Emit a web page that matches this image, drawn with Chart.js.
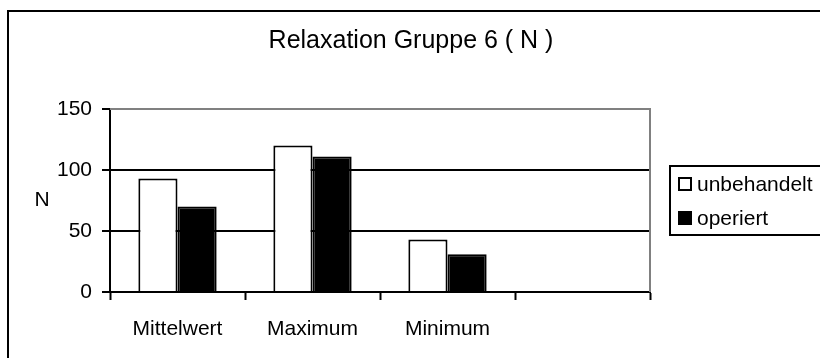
<!DOCTYPE html>
<html>
<head>
<meta charset="utf-8">
<script src="https://cdn.jsdelivr.net/npm/chart.js@4/dist/chart.umd.min.js"></script>
<style>
  html, body { margin: 0; padding: 0; background: #fff; }
  #wrap { width: 820px; height: 358px; }
</style>
</head>
<body>
<div id="wrap"><canvas id="c" width="820" height="358"></canvas></div>
<script>
// Chart data
const categories = ['Mittelwert', 'Maximum', 'Minimum', ''];
const seriesNames = ['unbehandelt', 'operiert'];
const unbehandelt = [93, 120, 43, null];
const operiert = [70, 111, 31, null];
const yTicks = [0, 50, 100, 150];
const chartTitle = 'Relaxation Gruppe 6 ( N )';
const yTitle = 'N';

const FONT = '"Liberation Sans", Arial, sans-serif';

// Frame, title, axis caption and boxed legend drawn around the plot
const decorations = {
  id: 'decorations',
  beforeDraw(chart) {
    const ctx = chart.ctx;
    ctx.save();
    ctx.fillStyle = '#fff';
    ctx.fillRect(0, 0, chart.width, chart.height);
    ctx.restore();
  },
  afterDraw(chart) {
    const ctx = chart.ctx;
    const area = chart.chartArea;
    ctx.save();

    // plot area border (top and right, grey)
    ctx.strokeStyle = '#808080';
    ctx.lineWidth = 2;
    ctx.beginPath();
    ctx.moveTo(area.left, area.top);
    ctx.lineTo(area.right, area.top);
    ctx.lineTo(area.right, area.bottom);
    ctx.stroke();

    // outer frame
    ctx.strokeStyle = '#000';
    ctx.lineWidth = 2;
    ctx.strokeRect(8, 11, 830, 360);

    // title
    ctx.fillStyle = '#000';
    ctx.font = '25px ' + FONT;
    ctx.textAlign = 'center';
    ctx.textBaseline = 'middle';
    ctx.fillText(chartTitle, 411, 41);

    // y axis caption
    ctx.font = '21px ' + FONT;
    ctx.fillText(yTitle, 42, 200);

    // legend
    ctx.lineWidth = 2;
    ctx.strokeRect(670, 166, 170, 69);
    const rows = [184, 218];
    chart.data.datasets.forEach((ds, i) => {
      const y = rows[i];
      ctx.fillStyle = ds.backgroundColor;
      ctx.fillRect(679, y - 6, 12, 12);
      ctx.strokeStyle = '#000';
      ctx.lineWidth = 2;
      ctx.strokeRect(679, y - 6, 12, 12);
      ctx.fillStyle = '#000';
      ctx.textAlign = 'left';
      ctx.textBaseline = 'middle';
      ctx.font = '21px ' + FONT;
      ctx.fillText(ds.label, 697, y + 1);
    });
    ctx.restore();
  }
};

new Chart(document.getElementById('c'), {
  type: 'bar',
  data: {
    labels: categories,
    datasets: [
      {
        label: seriesNames[0],
        data: unbehandelt,
        backgroundColor: '#ffffff',
        borderColor: '#000000',
        borderWidth: 2,
        borderSkipped: 'bottom'
      },
      {
        label: seriesNames[1],
        data: operiert,
        backgroundColor: '#000000',
        borderColor: '#000000',
        borderWidth: 2,
        borderSkipped: 'bottom'
      }
    ]
  },
  options: {
    responsive: false,
    animation: false,
    devicePixelRatio: 1,
    layout: { padding: { top: 109, right: 170, bottom: 0, left: 0 } },
    datasets: {
      bar: { categoryPercentage: 0.58, barPercentage: 1.0 }
    },
    plugins: {
      legend: { display: false },
      title: { display: false },
      tooltip: { enabled: false }
    },
    scales: {
      x: {
        afterFit(scale) { scale.height = 66; },
        border: { display: true, color: '#000', width: 2 },
        grid: {
          display: true,
          offset: true,
          drawOnChartArea: false,
          drawTicks: true,
          tickLength: 8,
          tickColor: '#000',
          tickWidth: 2
        },
        ticks: {
          color: '#000',
          font: { family: FONT, size: 21 },
          padding: 17,
          maxRotation: 0,
          autoSkip: false
        }
      },
      y: {
        min: 0,
        max: 150,
        afterFit(scale) { scale.width = 110; },
        afterBuildTicks(scale) { scale.ticks = yTicks.map(v => ({ value: v })); },
        border: { display: true, color: '#000', width: 2 },
        grid: {
          color: ctx => (ctx.tick && ctx.tick.value === 150 ? '#808080' : '#000'),
          lineWidth: 2,
          drawTicks: true,
          tickLength: 8,
          tickColor: '#000',
          tickWidth: 2
        },
        ticks: {
          color: '#000',
          font: { family: FONT, size: 21 },
          padding: 10
        }
      }
    }
  },
  plugins: [decorations]
});
</script>
</body>
</html>
